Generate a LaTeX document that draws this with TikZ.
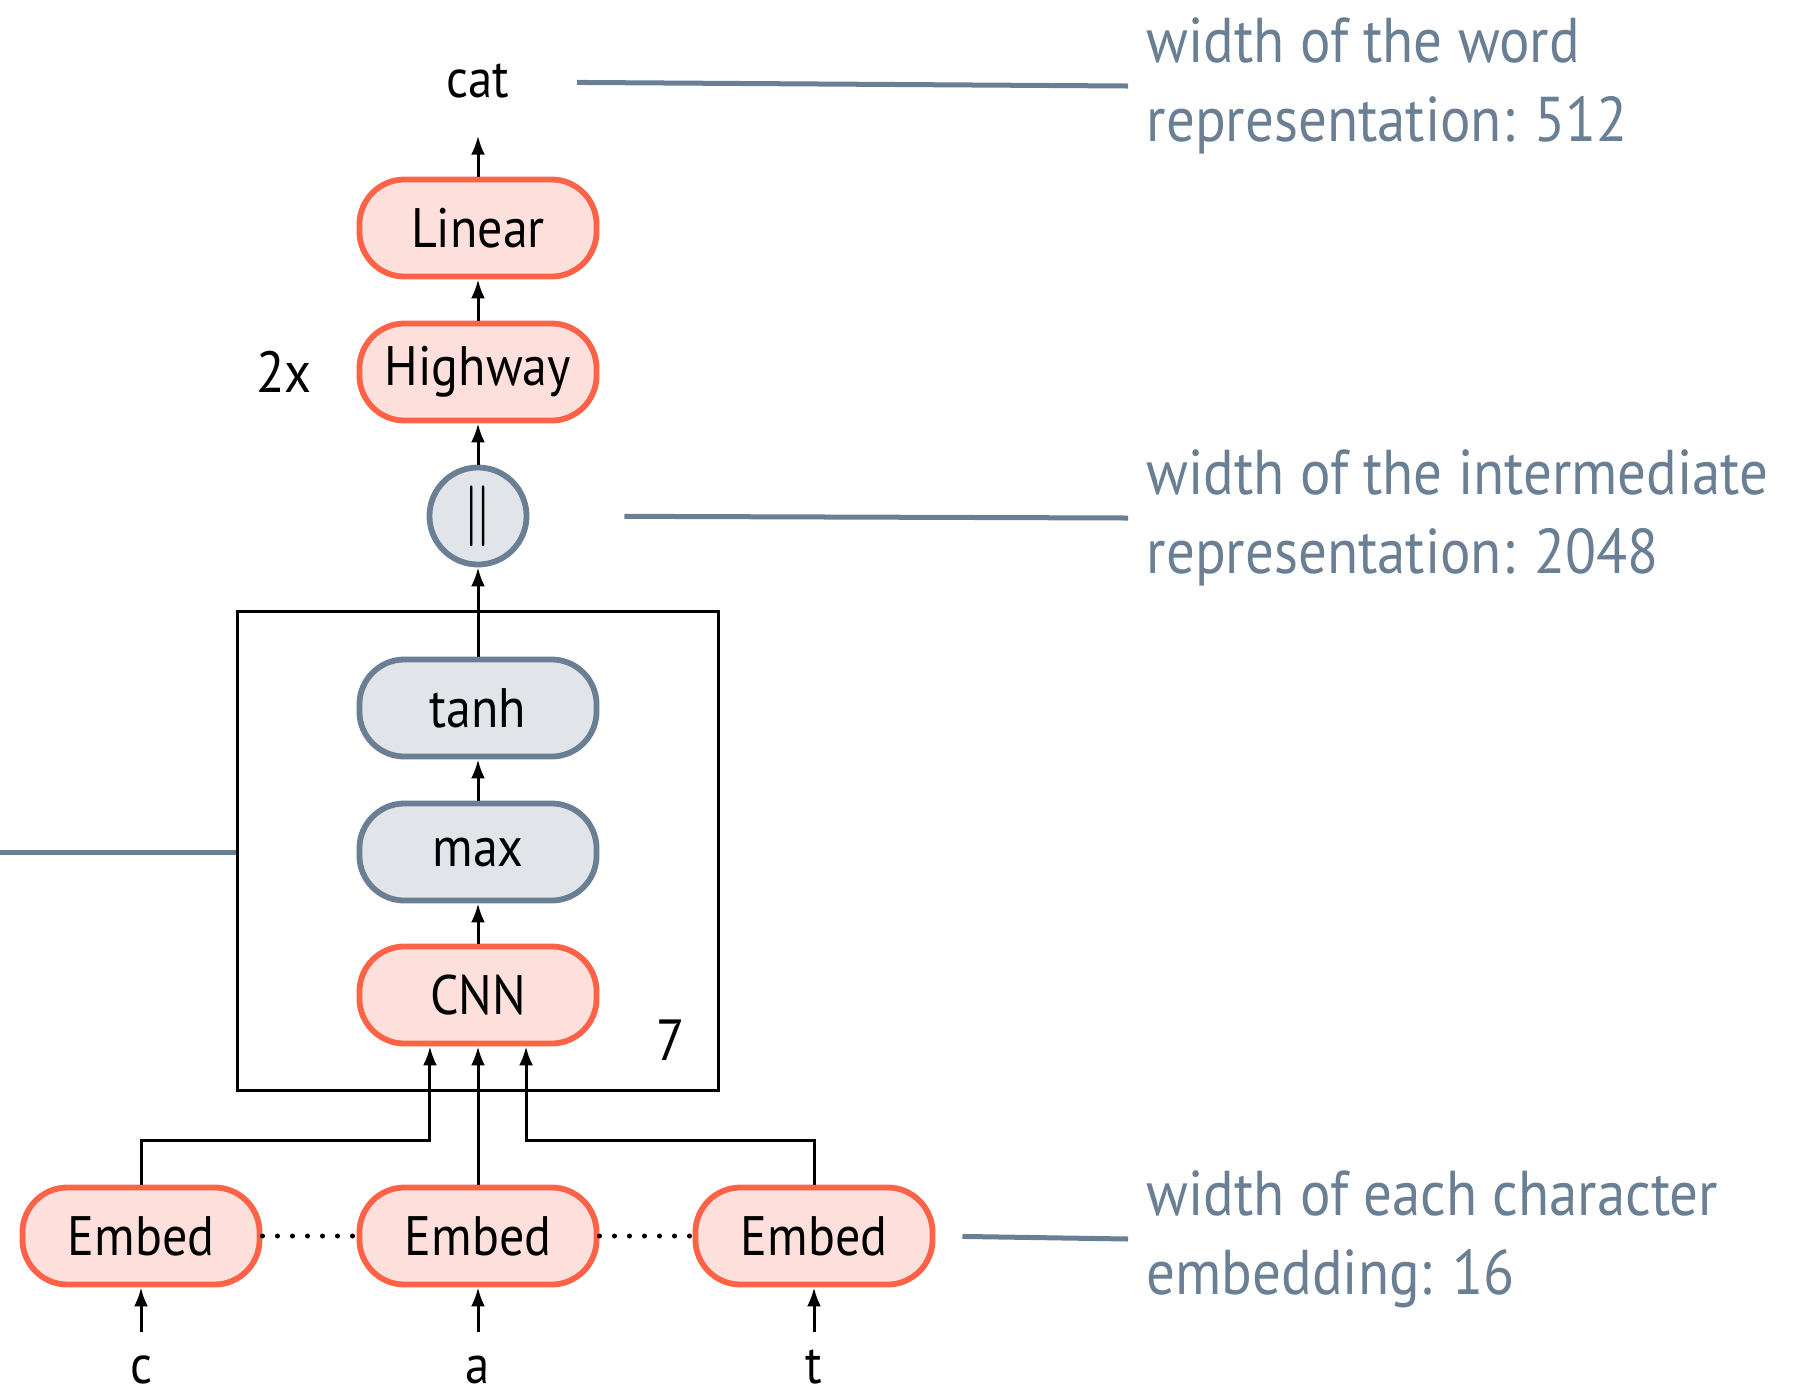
\documentclass[tikz,border=0pt]{standalone}
\usepackage{fontspec}
\setmainfont{PT Sans}[FakeStretch=0.9]
\usetikzlibrary{arrows.meta}

\definecolor{layerred}{HTML}{FF6347}
\definecolor{layerpink}{HTML}{FDE0DB}
\definecolor{slate}{HTML}{6A7F94}
\definecolor{slatefill}{HTML}{E1E4E9}

\tikzset{
  layer/.style={draw=layerred, fill=layerpink, line width=0.058cm, rounded corners=0.45cm,
    minimum width=2.37cm, minimum height=0.97cm, inner sep=0pt, font=\fontsize{15.8}{18}\selectfont},
  oplayer/.style={layer, draw=slate, fill=slatefill},
  concat/.style={circle, draw=slate, fill=slatefill, line width=0.058cm, minimum size=0.97cm,
    inner sep=0pt, font=\fontsize{17}{18}\selectfont},
  flow/.style={-{Latex[length=0.19cm,width=0.14cm]}, line width=0.03cm},
  leader/.style={draw=slate, line width=0.05cm},
  note/.style={text=slate, align=left, anchor=west, inner sep=0.18cm, font=\fontsize{18}{22.5}\selectfont},
  letter/.style={anchor=base, text height=0.3cm, text depth=0pt, inner sep=0pt, font=\fontsize{15.4}{18}\selectfont},
  count/.style={font=\fontsize{16.5}{18}\selectfont},
  dots/.style={line width=0.05cm, line cap=round, dash pattern=on 0pt off 0.15cm}
}

\begin{document}
\begin{tikzpicture}[x=0.01cm, y=-0.01cm]
\useasboundingbox (0,0) rectangle (1802,1396);

% Word level layers
\node[letter] (cat) at (478,97) {cat};
\node[layer] (linear) at (478,228) {Linear};
\node[layer] (highway) at (478,372) {Highway};
\node[count] (times) at (284,372) {2x};
\node[concat] (join) at (478,516) {$\|$};

% Character CNN block
\node[oplayer] (tanh) at (478,708) {tanh};
\node[oplayer] (max) at (478,852) {max};
\node[layer] (cnn) at (478,995) {CNN};
\node[draw, line width=0.03cm, minimum width=4.8cm, minimum height=4.79cm, inner sep=0pt] (block) at (478,851) {};
\node[count] (reps) at (671,1040) {7};

% Embeddings and input characters
\foreach \name/\x/\ch in {e1/141/c, e2/478/a, e3/814/t} {
  \node[layer] (\name) at (\x,1236) {Embed};
  \node[letter] (char-\name) at (\x,1383) {\ch};
  \draw[flow, shorten <=0.2cm] (char-\name) -- (\name);
}

% Notes on the right
\node[note] (wordnote) at (1128,86) {width of the word\\representation: 512};
\node[note] (midnote) at (1128,518) {width of the intermediate\\representation: 2048};
\node[note] (charnote) at (1128,1239) {width of each character\\embedding: 16};
\coordinate (leftedge) at (0,852);
\coordinate (bus) at (0,1140);

% Arrows up the network
\draw[flow] (e1.north) -- (e1.north |- bus) -| ([xshift=-0.48cm]cnn.south);
\draw[flow] (e2) -- (cnn);
\draw[flow] (e3.north) -- (e3.north |- bus) -| ([xshift=0.48cm]cnn.south);
\draw[flow] (cnn) -- (max);
\draw[flow] (max) -- (tanh);
\draw[flow] (tanh) -- (join);
\draw[flow] (join) -- (highway);
\draw[flow] (highway) -- (linear);
\draw[flow, shorten >=0.38cm] (linear) -- (cat);

% Dotted links between embeddings
\draw[dots] (e1) -- (e2);
\draw[dots] (e2) -- (e3);

% Leader lines
\draw[leader, shorten <=0.67cm] (cat.east) -- (wordnote.west);
\draw[leader, shorten <=0.95cm] (join.east) -- (midnote.west);
\draw[leader, shorten <=0.27cm] (e3.east) -- (charnote.west);
\draw[leader] (leftedge) -- (leftedge -| block.west);

\end{tikzpicture}
\end{document}
